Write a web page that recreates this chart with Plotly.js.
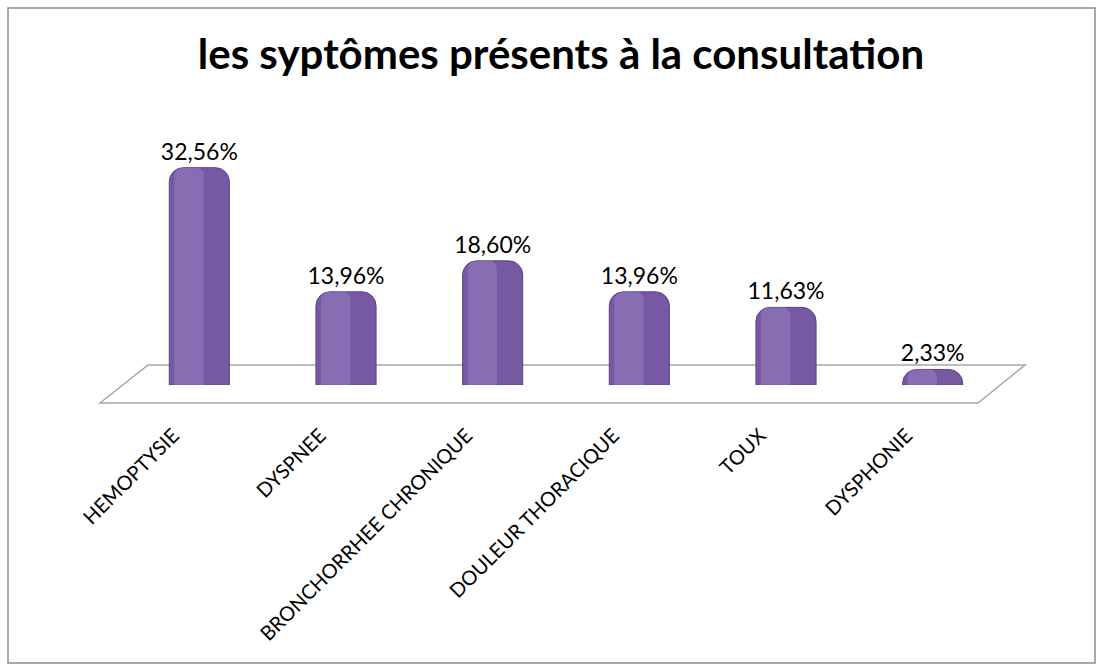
<!DOCTYPE html>
<html>
<head>
<meta charset="utf-8">
<script src="https://cdn.plot.ly/plotly-3.0.1.min.js"></script>
<style>html,body{margin:0;padding:0;background:#fff;}#chart{width:1104px;height:671px;}</style>
</head>
<body>
<div id="chart"></div>
<script>
const categories = ["HEMOPTYSIE", "DYSPNEE", "BRONCHORRHEE CHRONIQUE", "DOULEUR THORACIQUE", "TOUX", "DYSPHONIE"];
const percentages = [32.56, 13.96, 18.60, 13.96, 11.63, 2.33];
const titleText = "les syptômes présents à la consultation";

const labels = percentages.map(v => v.toFixed(2).replace('.', ',') + '%');

const main = {
  type: 'bar',
  x: categories,
  y: percentages,
  width: 0.41,
  marker: {color: '#7658A3', cornerradius: 14, line: {color: '#5E4489', width: 1}},
  text: labels,
  textposition: 'outside',
  constraintext: 'none',
  textfont: {family: 'Lato, "Open Sans", sans-serif', size: 23, color: '#000'},
  cliponaxis: false,
  hoverinfo: 'x+y'
};
const highlight = {
  type: 'bar',
  x: categories,
  y: percentages,
  width: 0.2,
  offset: -0.17,
  marker: {color: 'rgba(160,135,200,0.45)', cornerradius: 8, line: {width: 0}},
  hoverinfo: 'skip'
};

const px = (p) => (p - 126) / 880;
const py = (p) => (385 - p) / 255;

const layout = {
  width: 1104, height: 671,
  margin: {l: 126, r: 98, t: 130, b: 286},
  paper_bgcolor: '#fff', plot_bgcolor: 'rgba(0,0,0,0)',
  showlegend: false,
  barmode: 'overlay',
  title: {text: '<b>' + titleText + '</b>', x: 561/1104, xanchor: 'center', y: 1 - 54/671, yanchor: 'middle',
          font: {family: 'Lato, "Open Sans", sans-serif', size: 42, color: '#000'}},
  xaxis: {
    type: 'category', range: [-0.5, 5.5], showgrid: false, zeroline: false, showline: false,
    tickangle: -45, ticks: 'outside', ticklen: 30, tickcolor: 'rgba(0,0,0,0)',
    ticklabelshift: -26,
    tickfont: {family: 'Lato, "Open Sans", sans-serif', size: 20, color: '#000'}
  },
  yaxis: {range: [0, 38.2], visible: false, fixedrange: true},
  shapes: [
    {type: 'path', xref: 'paper', yref: 'paper', layer: 'below',
     path: `M ${px(100)},${py(403)} L ${px(148)},${py(365)} L ${px(1025)},${py(365)} L ${px(978)},${py(403)} Z`,
     line: {color: '#A6A6A6', width: 1.5}, fillcolor: 'rgba(0,0,0,0)'},
    {type: 'rect', xref: 'paper', yref: 'paper', layer: 'below',
     x0: px(8), x1: px(1095), y0: py(663), y1: py(8),
     line: {color: '#8C8C8C', width: 1.5}, fillcolor: 'rgba(0,0,0,0)'}
  ]
};

Plotly.newPlot('chart', [main, highlight], layout, {displayModeBar: false, staticPlot: true});
</script>
</body>
</html>
